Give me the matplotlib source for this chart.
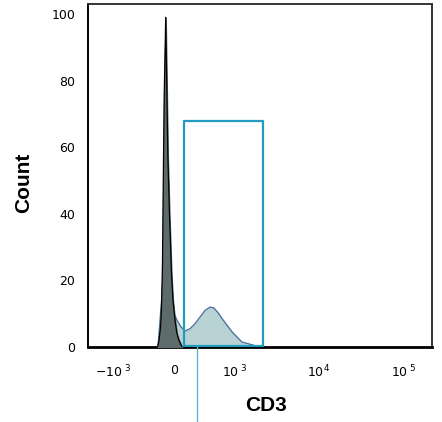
import numpy as np
import matplotlib
matplotlib.use("Agg")
import matplotlib.pyplot as plt

# biexponential-like display: asinh with linear width c
C = 397.0


def fwd(x):
    return np.arcsinh(np.asarray(x, dtype=float) / C) / np.log(10)


def inv(y):
    return C * np.sinh(np.asarray(y, dtype=float) * np.log(10))


# unstained / control peak (dark)
ctrl_x = [-183, -166, -148, -137, -126, -117, -107, -90, -78, -67, -49, -27, -11, 11, 32, 54, 87]
ctrl_y = [0, 2, 6, 12, 25, 50, 75, 99, 78, 58, 40, 22, 14, 8, 4, 2, 0]

# CD3 stained sample (light teal)
cd3_x = [-178, -120, -76, -32, 0, 32, 76, 120, 178, 238, 303, 375, 452, 519, 594,
         676, 790, 917, 1058, 1221, 1447, 1665, 1810]
cd3_y = [0, 20, 25, 15, 10, 8, 6, 4.8, 5.5, 7, 9, 11, 12, 11.7, 10.3,
         8.5, 6.5, 4.5, 3, 1.5, 1, 0.6, 0]

# gate
gate_lo, gate_hi, gate_top = 109, 2195, 68
marker_x = 264

xticks = [-1000, 0, 1000, 10000, 100000]
xticklabels = ['$-10^{\\ 3}$', '0', '$10^{\\ 3}$', '$10^{4}$', '$10^{\\ 5}$']
yticks = [0, 20, 40, 60, 80, 100]

fig = plt.figure(figsize=(4.42, 4.22), dpi=100)
ax = fig.add_axes([0.199, 0.1777, 0.778, 0.8128])
ax.set_xscale('function', functions=(fwd, inv))
ax.set_xlim(-2025, 215000)
ax.set_ylim(0, 103)

ax.fill_between(cd3_x, cd3_y, color='#b9d3d5', zorder=1)
ax.plot(cd3_x, cd3_y, color='#4a6d9c', lw=0.9, zorder=2)
ax.fill_between(ctrl_x, ctrl_y, color='#5e6b6b', zorder=3)
ax.plot(ctrl_x, ctrl_y, color='black', lw=0.9, zorder=4)

ax.plot([gate_lo, gate_lo, gate_hi, gate_hi, gate_lo],
        [0.3, gate_top, gate_top, 0.3, 0.3], color='#1f9cc0', lw=1.6, zorder=5)
ax.plot([marker_x, marker_x], [0, -25], color='#5ab8c4', lw=1.0,
        clip_on=False, zorder=5)

ax.set_xticks(xticks)
ax.set_xticklabels(xticklabels)
ax.set_yticks(yticks)
ax.tick_params(length=0, labelsize=9)
ax.tick_params(axis='x', pad=12)
ax.tick_params(axis='y', pad=9)
ax.minorticks_off()

ax.spines['left'].set_color('black')
ax.spines['left'].set_linewidth(1.4)
ax.spines['bottom'].set_color('black')
ax.spines['bottom'].set_linewidth(2.0)
for s in ['top', 'right']:
    ax.spines[s].set_color('#333333')
    ax.spines[s].set_linewidth(1.4)

ax.set_xlabel('CD3', fontsize=15, fontweight='bold', family='Liberation Sans')
ax.xaxis.set_label_coords(0.517, -0.143)
ax.set_ylabel('Count', fontsize=15, fontweight='bold', family='Liberation Sans')
ax.yaxis.set_label_coords(-0.16, 0.48)

fig.savefig('out.png', dpi=100)
